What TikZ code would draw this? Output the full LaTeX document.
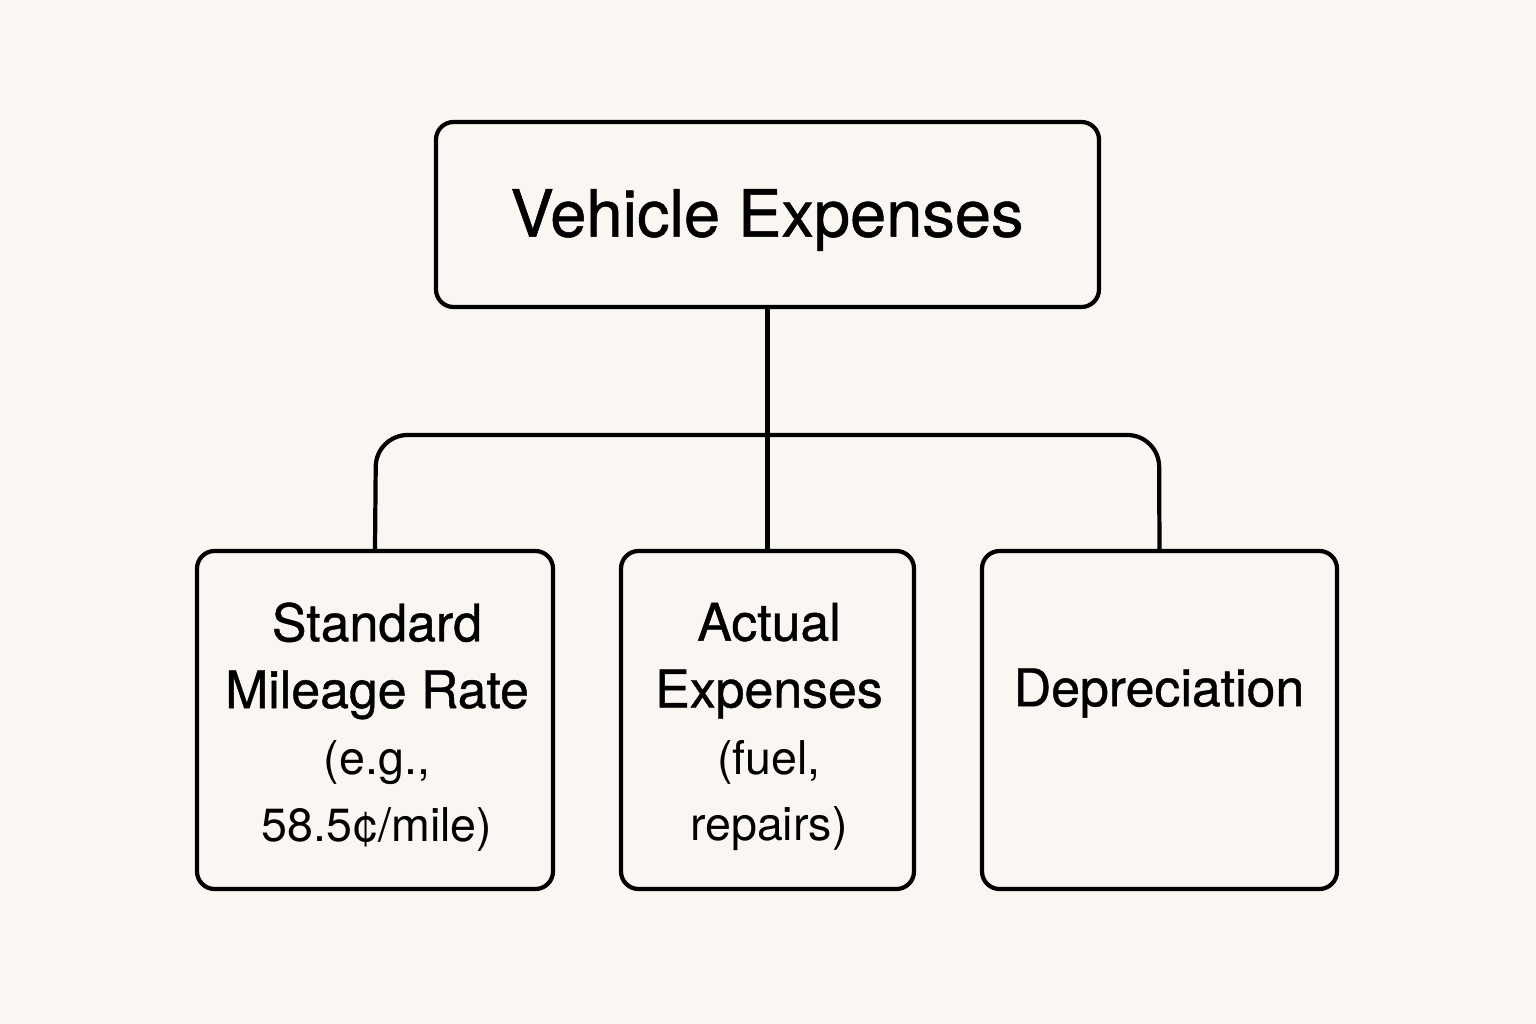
\documentclass[tikz,border=0pt]{standalone}
\usepackage{fontspec}
\setmainfont{TeX Gyre Heros}
\newfontfamily\medfont[FakeBold=0.8]{TeX Gyre Heros}
\begin{document}
\begin{tikzpicture}[x=0.02cm,y=-0.02cm,
  box/.style={draw=black,line width=2.4pt,rounded corners=10pt,inner sep=0pt},
  conn/.style={draw=black,line width=2.4pt}]
\fill[fill={rgb,255:red,250;green,247;blue,243}] (0,0) rectangle (1536,1024);
\useasboundingbox (0,0) rectangle (1536,1024);
\node[box,minimum width=663*0.02cm,minimum height=185*0.02cm] (top) at (767.5,214.5) {};
\node[font=\medfont\fontsize{37}{40}\selectfont] (tt) at (767,220) {Vehicle Expenses};
\node[box,minimum width=356*0.02cm,minimum height=338*0.02cm] (a) at (375,720) {};
\node[box,minimum width=293*0.02cm,minimum height=338*0.02cm] (b) at (767.5,720) {};
\node[box,minimum width=355*0.02cm,minimum height=338*0.02cm] (c) at (1159.5,720) {};
\node[align=center,font=\medfont\fontsize{29.5}{38}\selectfont] (at) at (377,727) {Standard\\Mileage Rate\\{\normalfont\fontsize{26.5}{38}\selectfont (e.g.,}\\{\normalfont\fontsize{26.5}{38}\selectfont 58.5¢/mile)}};
\node[align=center,font=\medfont\fontsize{29.5}{38}\selectfont] (bt) at (769,727) {Actual\\Expenses\\{\normalfont\fontsize{26.5}{38}\selectfont (fuel,}\\{\normalfont\fontsize{26.5}{38}\selectfont repairs)}};
\node[font=\medfont\fontsize{29.5}{38}\selectfont] (ct) at (1159,693) {Depreciation};
\draw[conn] (top.south) -- (b.north);
\draw[conn,rounded corners=18pt] (a.north) -- (376,435) -- (1159,435) -- (c.north);
\end{tikzpicture}
\end{document}
